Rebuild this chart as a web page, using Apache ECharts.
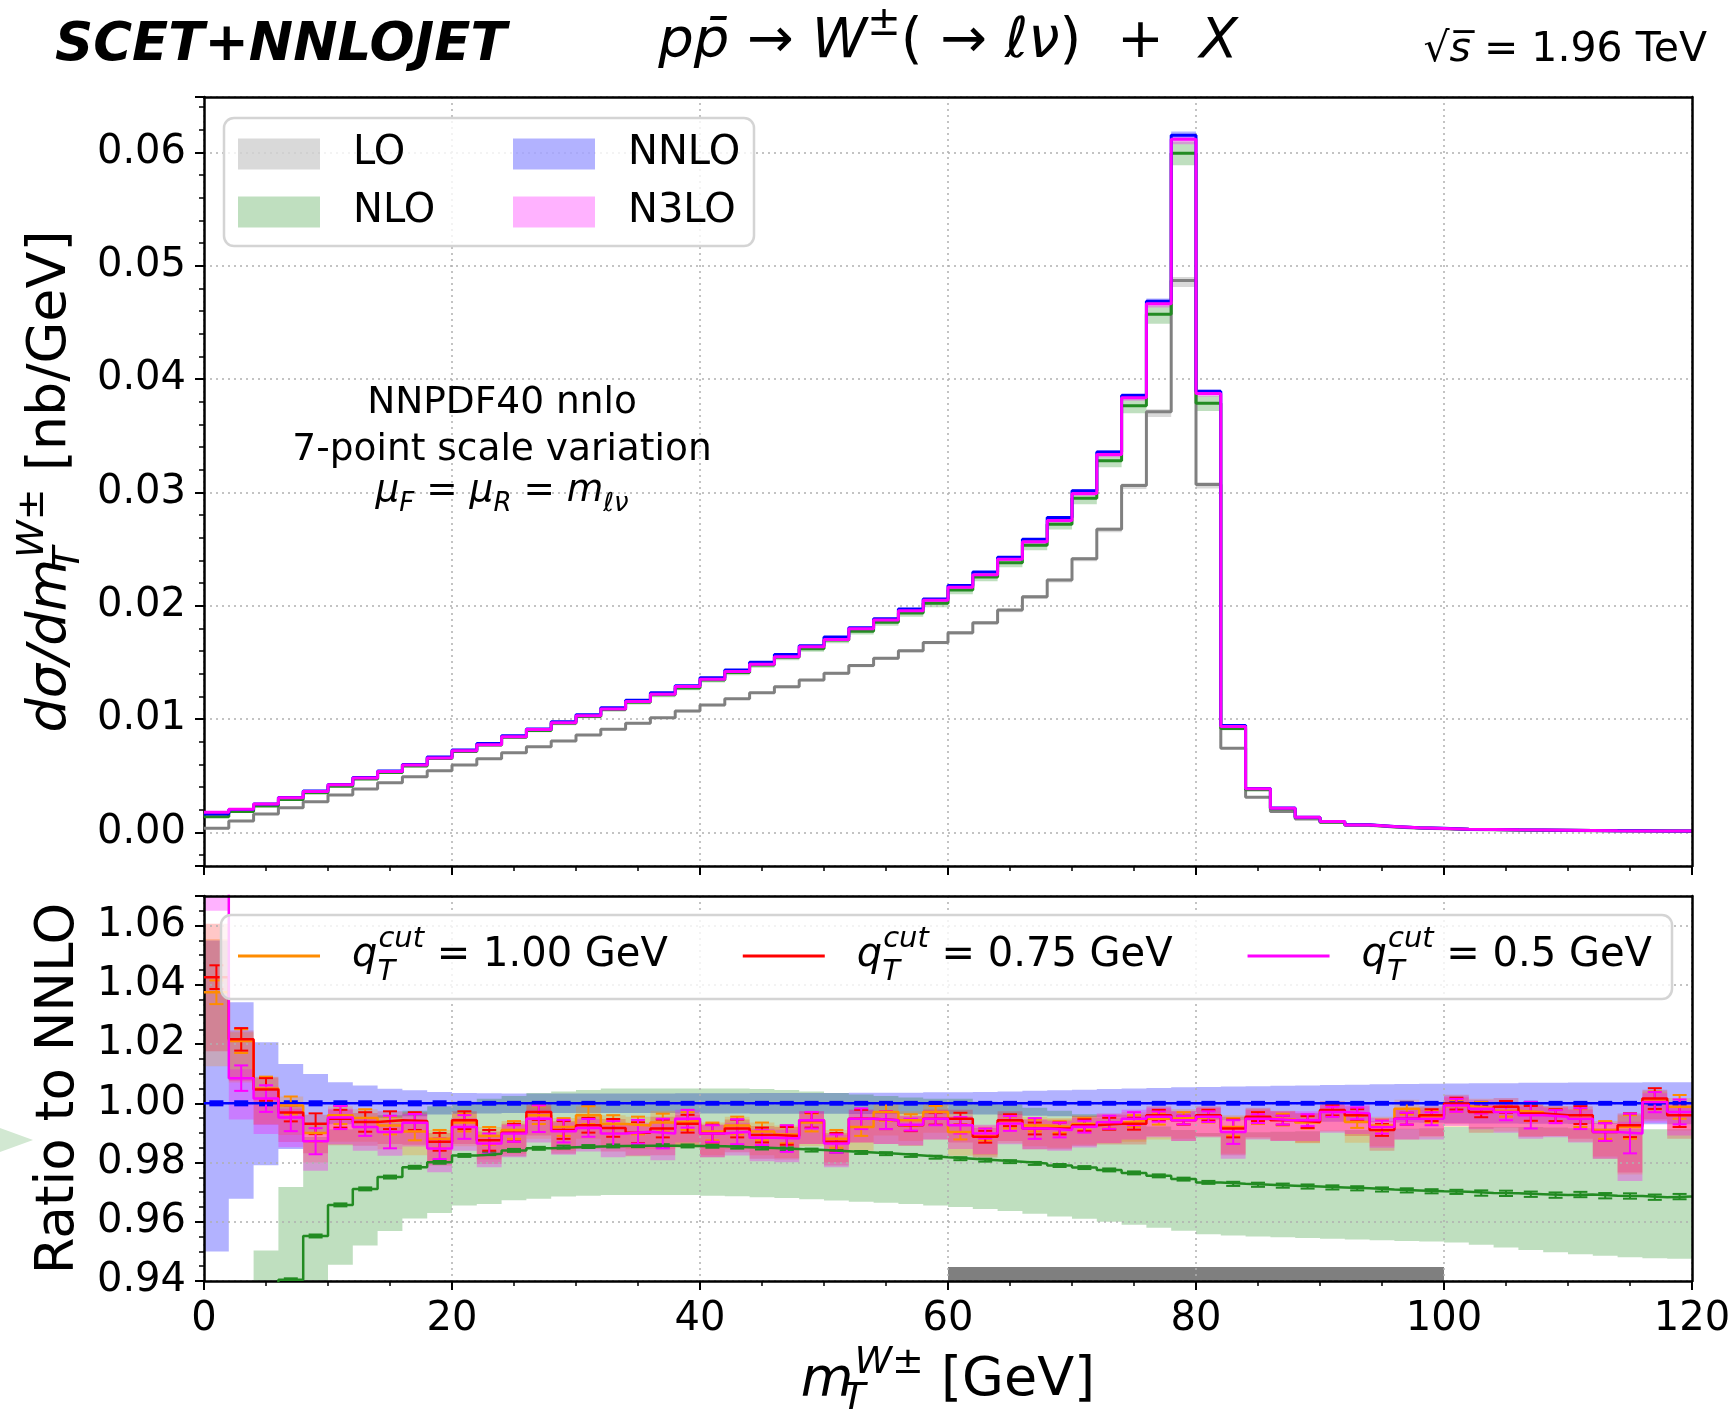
<!DOCTYPE html>
<html><head><meta charset="utf-8">
<script src="https://cdn.jsdelivr.net/npm/echarts@6/dist/echarts.min.js"></script>
<style>html,body{margin:0;padding:0;background:#fff}#chart{width:1731px;height:1415px}</style>
</head><body><div id="chart"></div>
<script>
// ---------------- data ----------------
const binEdges = [0,2,4,6,8,10,12,14,16,18,20,22,24,26,28,30,32,34,36,38,40,42,44,46,48,50,52,54,56,58,60,62,64,66,68,70,72,74,76,78,80,82,84,86,88,90,92,94,96,98,100,102,104,106,108,110,112,114,116,118,120];

// NNLO absolute cross section per bin [nb/GeV]
const nnloXs = [0.00162,0.00201,0.00250,0.00307,0.00365,0.00421,0.00484,0.00542,0.00598,0.00665,
0.00726,0.00784,0.00852,0.00912,0.00976,0.01038,0.01099,0.01165,0.01231,0.01293,
0.01364,0.01432,0.01500,0.01569,0.01646,0.01724,0.01805,0.01885,0.01970,0.02058,
0.02178,0.02297,0.02427,0.02585,0.02777,0.03013,0.03355,0.03855,0.04685,0.06150,
0.03890,0.00942,0.00386,0.00214,0.00134,0.00095,0.00066,0.00051,0.00041,0.00035,
0.00028,0.00025,0.00022,0.00020,0.00018,0.00016,0.00014,0.00013,0.00012,0.00011];
// LO absolute cross section per bin
const loXs = [0.00035,0.00100,0.00162,0.00218,0.00270,0.00330,0.00382,0.00438,0.00491,0.00544,
0.00594,0.00650,0.00703,0.00756,0.00806,0.00859,0.00909,0.00962,0.01012,0.01070,
0.01124,0.01179,0.01232,0.01285,0.01344,0.01403,0.01471,0.01535,0.01603,0.01676,
0.01762,0.01850,0.01962,0.02079,0.02226,0.02415,0.02674,0.03060,0.03710,0.04870,
0.03070,0.00743,0.00310,0.00183,0.00118,0.00086,0.00062,0.00046,0.00037,0.00031,
0.00026,0.00023,0.00021,0.00019,0.00017,0.00015,0.00014,0.00013,0.00012,0.00011];
// LO scale band relative to LO
const loBandDn = [0.990,0.990,0.990,0.990,0.990,0.990,0.990,0.990,0.990,0.990,
0.990,0.990,0.990,0.990,0.990,0.990,0.990,0.990,0.990,0.990,
0.990,0.990,0.990,0.990,0.990,0.990,0.990,0.990,0.990,0.990,
0.990,0.990,0.990,0.990,0.990,0.990,0.990,0.990,0.988,0.988,
0.988,0.990,0.990,0.990,0.990,0.990,0.990,0.990,0.990,0.990,
0.990,0.990,0.990,0.990,0.990,0.990,0.990,0.990,0.990,0.990];
const loBandUp = [1.006,1.006,1.006,1.006,1.006,1.006,1.006,1.006,1.006,1.006,
1.006,1.006,1.006,1.006,1.006,1.006,1.006,1.006,1.006,1.006,
1.006,1.006,1.006,1.006,1.006,1.006,1.006,1.006,1.006,1.006,
1.006,1.006,1.006,1.006,1.006,1.006,1.006,1.006,1.006,1.006,
1.006,1.006,1.006,1.006,1.006,1.006,1.006,1.006,1.006,1.006,
1.006,1.006,1.006,1.006,1.006,1.006,1.006,1.006,1.006,1.006];

// Ratios to NNLO
const nloRatio = [0.850,0.910,0.930,0.9404,0.9552,0.9657,0.9711,0.9751,0.9784,0.9801,
0.9824,0.9830,0.9841,0.9848,0.9852,0.9854,0.9856,0.9857,0.9857,0.9856,
0.9855,0.9852,0.9849,0.9846,0.9842,0.9838,0.9834,0.9830,0.9824,0.9818,
0.9813,0.9808,0.9803,0.9797,0.9790,0.9783,0.9775,0.9765,0.9755,0.9744,
0.9733,0.9728,0.9725,0.9722,0.9719,0.9716,0.9713,0.9709,0.9706,0.9703,
0.9701,0.9697,0.9696,0.9693,0.9690,0.9692,0.9688,0.9687,0.9683,0.9685];
const nloRatioErr = [0.0005,0.0005,0.0005,0.0005,0.0005,0.0005,0.0005,0.0005,0.0005,0.0005,
0.0005,0.0005,0.0005,0.0005,0.0005,0.0005,0.0005,0.0005,0.0005,0.0005,
0.0005,0.0005,0.0005,0.0005,0.0005,0.0005,0.0005,0.0005,0.0005,0.0005,
0.0005,0.0005,0.0005,0.0005,0.0005,0.0005,0.0005,0.0005,0.0005,0.0005,
0.0005,0.0007,0.0007,0.0007,0.0007,0.0007,0.0007,0.0007,0.0007,0.0007,
0.0007,0.0009,0.0009,0.0009,0.0009,0.0009,0.0009,0.0009,0.0009,0.0009];
const nloBandLo = [0.780,0.850,0.900,0.915,0.930,0.9455,0.9520,0.9569,0.9611,0.9630,
0.9655,0.9660,0.9673,0.9678,0.9685,0.9688,0.9690,0.9690,0.9690,0.9690,
0.9688,0.9686,0.9683,0.9680,0.9676,0.9672,0.9668,0.9664,0.9660,0.9655,
0.9650,0.9643,0.9636,0.9627,0.9618,0.9610,0.9600,0.9590,0.9580,0.9570,
0.9558,0.9554,0.9550,0.9548,0.9545,0.9543,0.9540,0.9538,0.9535,0.9533,
0.9530,0.9522,0.9513,0.9505,0.9497,0.9490,0.9485,0.9480,0.9477,0.9475];
const nloBandHi = [0.920,0.935,0.9503,0.9717,0.9886,0.9912,0.9940,0.9960,0.9975,0.9990,
1.0005,1.0015,1.0025,1.0035,1.0040,1.0045,1.0050,1.0050,1.0050,1.0050,
1.0050,1.0050,1.0048,1.0045,1.0040,1.0035,1.0030,1.0025,1.0020,1.0015,
1.0015,1.0005,0.9995,0.9985,0.9975,0.9963,0.9950,0.9935,0.9922,0.9910,
0.9900,0.9900,0.9902,0.9904,0.9906,0.9908,0.9910,0.9912,0.9914,0.9916,
0.9920,0.9920,0.9920,0.9920,0.9918,0.9916,0.9915,0.9913,0.9912,0.9912];

const nnloRatio = [1,1,1,1,1,1,1,1,1,1,1,1,1,1,1,1,1,1,1,1,1,1,1,1,1,1,1,1,1,1,
1,1,1,1,1,1,1,1,1,1,1,1,1,1,1,1,1,1,1,1,1,1,1,1,1,1,1,1,1,1];
const nnloRatioErr = [0.0006,0.0006,0.0006,0.0006,0.0006,0.0006,0.0006,0.0006,0.0006,0.0006,
0.0004,0.0004,0.0004,0.0004,0.0004,0.0004,0.0004,0.0004,0.0004,0.0004,
0.0004,0.0004,0.0004,0.0004,0.0004,0.0004,0.0004,0.0004,0.0004,0.0004,
0.0004,0.0004,0.0004,0.0004,0.0004,0.0004,0.0004,0.0004,0.0004,0.0004,
0.0004,0.0004,0.0004,0.0004,0.0004,0.0004,0.0004,0.0004,0.0004,0.0004,
0.0004,0.0004,0.0004,0.0004,0.0004,0.0004,0.0004,0.0004,0.0004,0.0004];
const nnloBandHi = [1.0550,1.0341,1.0206,1.0133,1.0099,1.0071,1.0060,1.0049,1.0044,1.0038,
1.0035,1.0034,1.0033,1.0033,1.0033,1.0033,1.0033,1.0033,1.0033,1.0034,
1.0034,1.0034,1.0035,1.0035,1.0035,1.0035,1.0036,1.0036,1.0036,1.0037,
1.0037,1.0038,1.0040,1.0042,1.0044,1.0046,1.0048,1.0050,1.0052,1.0054,
1.0055,1.0057,1.0058,1.0059,1.0060,1.0062,1.0063,1.0064,1.0065,1.0066,
1.0067,1.0068,1.0068,1.0069,1.0069,1.0070,1.0070,1.0070,1.0071,1.0071];
const nnloBandLo = [0.9500,0.9678,0.9791,0.9846,0.9900,0.9929,0.9940,0.9951,0.9956,0.9962,
0.9965,0.9966,0.9967,0.9967,0.9967,0.9967,0.9967,0.9967,0.9967,0.9966,
0.9966,0.9966,0.9965,0.9965,0.9965,0.9965,0.9964,0.9964,0.9964,0.9963,
0.9963,0.9962,0.9960,0.9958,0.9956,0.9954,0.9952,0.9950,0.9948,0.9946,
0.9945,0.9943,0.9942,0.9941,0.9940,0.9938,0.9937,0.9936,0.9935,0.9934,
0.9933,0.9932,0.9932,0.9931,0.9931,0.9930,0.9930,0.9930,0.9929,0.9929];

// N3LO / NNLO for three qT-cut values, with MC errors
const r100 = [1.0375,1.0210,1.0050,0.9993,0.9900,0.9960,0.9950,0.9925,0.9905,0.9880,
0.9935,0.9890,0.9910,0.9960,0.9920,0.9960,0.9930,0.9925,0.9935,0.9940,
0.9905,0.9925,0.9905,0.9895,0.9935,0.9880,0.9920,0.9971,0.9943,0.9971,
0.9903,0.9895,0.9935,0.9925,0.9920,0.9930,0.9935,0.9940,0.9948,0.9950,
0.9955,0.9920,0.9950,0.9945,0.9935,0.9975,0.9937,0.9925,0.9982,0.9955,
0.9990,0.9985,0.9975,0.9970,0.9960,0.9950,0.9910,0.9920,1.0010,0.9988];
const e100 = [0.004,0.004,0.004,0.003,0.003,0.003,0.003,0.003,0.003,0.003,
0.003,0.003,0.003,0.003,0.003,0.003,0.003,0.003,0.003,0.003,
0.003,0.003,0.003,0.003,0.003,0.003,0.003,0.003,0.002,0.002,
0.0025,0.002,0.002,0.002,0.002,0.002,0.002,0.002,0.002,0.002,
0.002,0.003,0.002,0.002,0.002,0.002,0.002,0.002,0.002,0.002,
0.002,0.002,0.002,0.003,0.002,0.003,0.003,0.004,0.003,0.004];
const r075 = [1.0426,1.0216,1.0047,0.9969,0.9931,0.9948,0.9937,0.9943,0.9940,0.9870,
0.9943,0.9875,0.9901,0.9971,0.9910,0.9926,0.9917,0.9901,0.9915,0.9931,
0.9898,0.9915,0.9893,0.9890,0.9943,0.9870,0.9948,0.9943,0.9926,0.9948,
0.9948,0.9887,0.9943,0.9915,0.9915,0.9926,0.9931,0.9931,0.9960,0.9943,
0.9960,0.9915,0.9955,0.9943,0.9937,0.9977,0.9960,0.9910,0.9948,0.9960,
0.9999,0.9971,0.9988,0.9966,0.9960,0.9960,0.9903,0.9926,1.0016,0.9960];
const e075 = [0.004,0.0038,0.0038,0.003,0.0035,0.003,0.0033,0.003,0.003,0.003,
0.003,0.0035,0.003,0.0027,0.003,0.0025,0.003,0.0035,0.003,0.003,
0.003,0.003,0.0025,0.003,0.0025,0.003,0.003,0.003,0.002,0.002,
0.002,0.002,0.002,0.002,0.002,0.002,0.002,0.002,0.0018,0.0015,
0.0018,0.003,0.0015,0.0015,0.002,0.0018,0.002,0.002,0.002,0.002,
0.002,0.0018,0.002,0.0025,0.002,0.003,0.003,0.004,0.0035,0.004];
const r050 = [1.0900,1.0085,1.0016,0.9952,0.9872,0.9952,0.9920,0.9903,0.9934,0.9847,
0.9920,0.9864,0.9898,0.9948,0.9906,0.9917,0.9898,0.9904,0.9898,0.9948,
0.9898,0.9904,0.9884,0.9881,0.9943,0.9864,0.9948,0.9943,0.9928,0.9948,
0.9926,0.9898,0.9932,0.9915,0.9910,0.9921,0.9936,0.9948,0.9955,0.9943,
0.9955,0.9903,0.9948,0.9943,0.9943,0.9971,0.9966,0.9920,0.9948,0.9948,
0.9993,0.9982,0.9971,0.9960,0.9955,0.9948,0.9903,0.9898,1.0004,0.9971];
const e050 = [0.005,0.0043,0.0045,0.0046,0.0044,0.0039,0.003,0.0055,0.003,0.0035,
0.004,0.0034,0.0028,0.0045,0.0038,0.003,0.0042,0.004,0.005,0.003,
0.0028,0.0042,0.0025,0.0045,0.0028,0.0031,0.0035,0.003,0.002,0.0022,
0.0028,0.0017,0.0025,0.0035,0.0025,0.002,0.0022,0.0022,0.0017,0.0014,
0.0018,0.004,0.0015,0.0015,0.002,0.0017,0.002,0.0022,0.002,0.0022,
0.0022,0.0017,0.0028,0.0045,0.0022,0.0035,0.003,0.0067,0.0034,0.0042];
// N3LO scale band offsets (below / above the central value)
const n3loBandDn = [0.025,0.014,0.012,0.010,0.010,0.009,0.008,0.008,0.008,0.008,
0.008,0.008,0.008,0.008,0.008,0.008,0.008,0.008,0.009,0.008,
0.008,0.008,0.008,0.008,0.008,0.008,0.008,0.008,0.007,0.007,
0.008,0.007,0.007,0.007,0.007,0.007,0.007,0.007,0.007,0.007,
0.007,0.009,0.007,0.007,0.007,0.007,0.007,0.007,0.007,0.007,
0.007,0.007,0.007,0.008,0.007,0.008,0.009,0.016,0.007,0.008];
const n3loBandUp = [0.018,0.003,0.004,0.003,0.003,0.003,0.003,0.003,0.003,0.003,
0.003,0.003,0.003,0.003,0.003,0.003,0.003,0.003,0.004,0.003,
0.003,0.003,0.003,0.003,0.003,0.003,0.003,0.003,0.003,0.003,
0.003,0.003,0.003,0.003,0.003,0.003,0.003,0.003,0.003,0.003,
0.003,0.004,0.003,0.003,0.003,0.003,0.003,0.003,0.003,0.003,
0.003,0.003,0.003,0.003,0.003,0.003,0.003,0.004,0.003,0.003];
// fit-window bar at the bottom of ratio panel: [xFrom, xTo, yTop]
const grayBar = [60, 100, 0.9447];

// ---------------- helpers ----------------
const Y0 = [-0.00297, 0.06488];
const Y1 = [0.94, 1.07];
const yExt = [Y0, Y1];
const mul = (a, b) => a.map((v, i) => v * b[i]);
const add = (a, b, s) => a.map((v, i) => v + s * b[i]);
const FONT = 'DejaVu Sans';

const nloXs = mul(nnloXs, nloRatio);
const n3loXs = mul(nnloXs, r050);

function stepPts(vals) {
  const d = vals.map((v, i) => [binEdges[i], v]);
  d.push([binEdges[vals.length], vals[vals.length - 1]]);
  return d;
}
function stepLine(name, ax, vals, color, w, z) {
  return { type: 'line', name, xAxisIndex: ax, yAxisIndex: ax, step: 'end', data: stepPts(vals),
    showSymbol: false, symbol: 'none', lineStyle: { color, width: w }, itemStyle: { color },
    z: z || 3, silent: true, clip: true, animation: false };
}
function band(name, ax, lows, highs, color, z) {
  const ext = yExt[ax];
  const cl = v => Math.min(Math.max(v, ext[0]), ext[1]);
  return { type: 'custom', name, xAxisIndex: ax, yAxisIndex: ax, z: z || 1, silent: true, animation: false,
    data: [[60, (ext[0] + ext[1]) / 2]],
    renderItem: (params, api) => {
      const top = [], bot = [];
      for (let i = 0; i < lows.length; i++) {
        top.push(api.coord([binEdges[i], cl(highs[i])]), api.coord([binEdges[i + 1], cl(highs[i])]));
        bot.push(api.coord([binEdges[i], cl(lows[i])]), api.coord([binEdges[i + 1], cl(lows[i])]));
      }
      return { type: 'polygon', shape: { points: top.concat(bot.reverse()) }, style: { fill: color } };
    } };
}
function errBars(name, ax, vals, errs, color, capHalf, lw, z) {
  const ext = yExt[ax];
  const data = vals.map((v, i) => [(binEdges[i] + binEdges[i + 1]) / 2, v, errs[i]]);
  return { type: 'custom', name, xAxisIndex: ax, yAxisIndex: ax, z: z || 3, silent: true, animation: false, data,
    renderItem: (params, api) => {
      const x = api.value(0), y = api.value(1), e = api.value(2);
      const lo = y - e, hi = y + e;
      if (lo > ext[1] || hi < ext[0]) return null;
      const p0 = api.coord([x, Math.max(lo, ext[0])]), p1 = api.coord([x, Math.min(hi, ext[1])]);
      const st = { stroke: color, lineWidth: lw };
      const ch = [{ type: 'line', shape: { x1: p0[0], y1: p0[1], x2: p1[0], y2: p1[1] }, style: st }];
      if (lo >= ext[0]) ch.push({ type: 'line', shape: { x1: p0[0] - capHalf, y1: p0[1], x2: p0[0] + capHalf, y2: p0[1] }, style: st });
      if (hi <= ext[1]) ch.push({ type: 'line', shape: { x1: p1[0] - capHalf, y1: p1[1], x2: p1[0] + capHalf, y2: p1[1] }, style: st });
      return { type: 'group', children: ch };
    } };
}

const C = {
  loLine: '#808080', loBand: 'rgba(128,128,128,0.3)',
  nloLine: '#228b22', nloBand: 'rgba(0,128,0,0.25)',
  nnloLine: '#0000ff', nnloBand: 'rgba(0,0,255,0.3)',
  n3loLine: '#ff00ff', n3loBand: 'rgba(255,0,255,0.3)',
  orange: '#ff8c00', red: '#ff0000', magenta: '#ff00ff'
};

const axisCommon = {
  z: 2,
  axisLine: { show: true, onZero: false, lineStyle: { color: '#000', width: 2.5 } },
  axisTick: { show: true, inside: false, length: 9, lineStyle: { color: '#000', width: 2 } },
  splitLine: { show: true, lineStyle: { color: '#b0b0b0', width: 1.5, type: [2, 4] } }
};
// frame-only axes (top / right spines)
function spine(grid, pos) {
  return { type: 'value', gridIndex: grid, position: pos, min: 0, max: 1, z: 4,
    axisLine: { show: true, onZero: false, lineStyle: { color: '#000', width: 2.5 } },
    axisTick: { show: false }, axisLabel: { show: false }, splitLine: { show: false } };
}
const labelStyle = { fontSize: 40, fontFamily: FONT, color: '#000' };
const nameRich = {
  it: { fontSize: 54, fontFamily: FONT, fontStyle: 'italic', color: '#000', lineHeight: 74, verticalAlign: 'middle' },
  n: { fontSize: 54, fontFamily: FONT, color: '#000', lineHeight: 74, verticalAlign: 'middle' },
  sub: { fontSize: 38, fontFamily: FONT, fontStyle: 'italic', color: '#000', lineHeight: 74, verticalAlign: 'bottom', width: 1 },
  supi: { fontSize: 38, fontFamily: FONT, fontStyle: 'italic', color: '#000', lineHeight: 74, verticalAlign: 'top' },
  supn: { fontSize: 38, fontFamily: FONT, color: '#000', lineHeight: 74, verticalAlign: 'top' }
};

const option = {
  animation: false,
  backgroundColor: '#ffffff',
  grid: [
    { left: 204, top: 97, width: 1488, height: 769, show: false, containLabel: false, outerBoundsMode: 'none' },
    { left: 204, top: 896, width: 1488, height: 385, show: false, containLabel: false, outerBoundsMode: 'none' }
  ],
  xAxis: [
    Object.assign({}, axisCommon, { type: 'value', gridIndex: 0, min: 0, max: 120, interval: 20,
      minorTick: { show: true, splitNumber: 4, length: 5, lineStyle: { color: '#000', width: 1.5 } },
      axisLabel: { show: false } }),
    Object.assign({}, axisCommon, { type: 'value', gridIndex: 1, min: 0, max: 120, interval: 20,
      minorTick: { show: true, splitNumber: 4, length: 5, lineStyle: { color: '#000', width: 1.5 } },
      axisLabel: Object.assign({ show: true, margin: 19, hideOverlap: false, formatter: v => String(v) }, labelStyle),
      name: '{it|m}{sub|T}{supi|W}{supn|±}{n| [GeV]}', nameLocation: 'middle', nameGap: 63, nameMoveOverlap: false,
      nameTextStyle: { rich: nameRich } }),
    spine(0, 'top'),
    spine(1, 'top')
  ],
  yAxis: [
    Object.assign({}, axisCommon, { type: 'value', gridIndex: 0, min: Y0[0], max: Y0[1], minInterval: 0.01, maxInterval: 0.01,
      minorTick: { show: true, splitNumber: 5, length: 5, lineStyle: { color: '#000', width: 1.5 } },
      axisLabel: Object.assign({ show: true, margin: 18, hideOverlap: false, showMinLabel: false, showMaxLabel: false, formatter: v => v.toFixed(2) }, labelStyle),
      name: '{it|dσ/dm}{sub|T}{supi|W}{supn|±}{n| [nb/GeV]}', nameLocation: 'middle', nameRotate: 90, nameGap: 116, nameMoveOverlap: false,
      nameTextStyle: { rich: nameRich } }),
    Object.assign({}, axisCommon, { type: 'value', gridIndex: 1, min: Y1[0], max: Y1[1], minInterval: 0.02, maxInterval: 0.02,
      minorTick: { show: true, splitNumber: 4, length: 5, lineStyle: { color: '#000', width: 1.5 } },
      axisLabel: Object.assign({ show: true, margin: 18, hideOverlap: false, showMinLabel: true, showMaxLabel: false, formatter: v => v.toFixed(2) }, labelStyle),
      name: 'Ratio to NNLO', nameLocation: 'middle', nameRotate: 90, nameGap: 118, nameMoveOverlap: false,
      nameTextStyle: { fontSize: 53, fontFamily: FONT, color: '#000' } }),
    spine(0, 'right'),
    spine(1, 'right')
  ],
  legend: [
    { show: true, orient: 'vertical', left: 238, top: 134, itemWidth: 82, itemHeight: 31, itemGap: 18, icon: 'rect', selectedMode: false, padding: 0, z: 6,
      data: [{ name: 'LO', itemStyle: { color: C.loBand, borderWidth: 0 } }, { name: 'NLO', itemStyle: { color: C.nloBand, borderWidth: 0 } }],
      textStyle: { fontSize: 40, fontFamily: FONT, color: '#000', padding: [0, 0, 0, 28] } },
    { show: true, orient: 'vertical', left: 513, top: 134, itemWidth: 82, itemHeight: 31, itemGap: 18, icon: 'rect', selectedMode: false, padding: 0, z: 6,
      data: [{ name: 'NNLO', itemStyle: { color: C.nnloBand, borderWidth: 0 } }, { name: 'N3LO', itemStyle: { color: C.n3loBand, borderWidth: 0 } }],
      textStyle: { fontSize: 40, fontFamily: FONT, color: '#000', padding: [0, 0, 0, 28] } },
    { show: true, orient: 'horizontal', left: 238, top: 925, itemWidth: 82, itemHeight: 3, itemGap: 75, icon: 'rect', selectedMode: false, padding: 0, z: 6,
      data: [{ name: 'q_T^cut = 1.00 GeV', itemStyle: { color: C.orange } }, { name: 'q_T^cut = 0.75 GeV', itemStyle: { color: C.red } }, { name: 'q_T^cut = 0.5 GeV', itemStyle: { color: C.magenta } }],
      formatter: name => '{q|q}{sub|T}{sup|cut}{n| ' + name.split('cut ')[1] + '}',
      textStyle: { fontSize: 40, fontFamily: FONT, color: '#000', padding: [0, 0, 0, 27],
        rich: {
          q: { fontSize: 40, fontFamily: FONT, fontStyle: 'italic', lineHeight: 62, verticalAlign: 'middle' },
          n: { fontSize: 40, fontFamily: FONT, lineHeight: 62, verticalAlign: 'middle' },
          sub: { fontSize: 29, fontFamily: FONT, fontStyle: 'italic', lineHeight: 62, verticalAlign: 'bottom', width: 1 },
          sup: { fontSize: 29, fontFamily: FONT, fontStyle: 'italic', lineHeight: 62, verticalAlign: 'top' }
        } } }
  ],
  graphic: [
    { type: 'text', x: 55, y: 46, z: 5, style: { text: 'SCET+NNLOJET', fontSize: 53, fontWeight: 'bold', fontStyle: 'italic', fontFamily: FONT, fill: '#000', verticalAlign: 'middle' } },
    { type: 'text', x: 948, y: 42, z: 5, style: { text: '{i|pp\u0304}{n| \u2192 }{i|W}{s|\u00b1}{n|( \u2192 }{i|\u2113\u03bd}{n|)  +  }{i|X}', align: 'center', verticalAlign: 'middle',
      rich: { i: { fontSize: 56, fontFamily: FONT, fontStyle: 'italic', lineHeight: 74, verticalAlign: 'middle' },
              n: { fontSize: 56, fontFamily: FONT, lineHeight: 74, verticalAlign: 'middle' },
              s: { fontSize: 40, fontFamily: FONT, lineHeight: 74, verticalAlign: 'top' } } } },
    { type: 'text', x: 1707, y: 50, z: 5, style: { text: '{n|\u221a}{i|s\u0305}{n| = 1.96 TeV}', align: 'right', verticalAlign: 'middle',
      rich: { i: { fontSize: 41, fontFamily: FONT, fontStyle: 'italic' }, n: { fontSize: 41, fontFamily: FONT } } } },
    { type: 'rect', z: 5, shape: { x: 224, y: 118, width: 530, height: 128, r: 10 }, style: { fill: 'rgba(255,255,255,0.8)', stroke: '#d4d4d4', lineWidth: 2.5 } },
    { type: 'rect', z: 5, shape: { x: 221, y: 915, width: 1451, height: 84, r: 10 }, style: { fill: 'rgba(255,255,255,0.8)', stroke: '#d4d4d4', lineWidth: 2.5 } },
    { type: 'text', x: 502, y: 403, z: 5, style: { text: 'NNPDF40 nnlo', fontSize: 37.5, fontFamily: FONT, fill: '#000', align: 'center', verticalAlign: 'middle' } },
    { type: 'text', x: 502, y: 450, z: 5, style: { text: '7-point scale variation', fontSize: 37.5, fontFamily: FONT, fill: '#000', align: 'center', verticalAlign: 'middle' } },
    { type: 'text', x: 502, y: 491, z: 5, style: { text: '{i|\u03bc}{b|F}{n| = }{i|\u03bc}{b|R}{n| = }{i|m}{b|\u2113\u03bd}', align: 'center', verticalAlign: 'middle',
      rich: { i: { fontSize: 37.5, fontFamily: FONT, fontStyle: 'italic', lineHeight: 52, verticalAlign: 'middle' },
              n: { fontSize: 37.5, fontFamily: FONT, lineHeight: 52, verticalAlign: 'middle' },
              b: { fontSize: 26, fontFamily: FONT, fontStyle: 'italic', lineHeight: 52, verticalAlign: 'bottom' } } } },
    { type: 'polygon', z: 5, shape: { points: [[0, 1128], [33, 1140], [0, 1152]] }, style: { fill: 'rgb(210,232,210)' } }
  ],
  series: [
    // ---- top panel ----
    band('LO', 0, mul(loXs, loBandDn), mul(loXs, loBandUp), C.loBand),
    band('NLO', 0, mul(nnloXs, nloBandLo), mul(nnloXs, nloBandHi), C.nloBand),
    band('NNLO', 0, mul(nnloXs, nnloBandLo), mul(nnloXs, nnloBandHi), C.nnloBand),
    band('N3LO', 0, mul(nnloXs, add(r050, n3loBandDn, -1)), mul(nnloXs, add(r050, n3loBandUp, 1)), C.n3loBand),
    stepLine('LO line', 0, loXs, C.loLine, 3),
    stepLine('NLO line', 0, nloXs, C.nloLine, 3),
    stepLine('NNLO line', 0, nnloXs, C.nnloLine, 3),
    stepLine('N3LO line', 0, n3loXs, C.n3loLine, 3),
    // ---- ratio panel ----
    band('NNLO band ratio', 1, nnloBandLo, nnloBandHi, C.nnloBand),
    band('NLO band ratio', 1, nloBandLo, nloBandHi, C.nloBand),
    band('N3LO 1.00 band', 1, add(r100, n3loBandDn, -1), add(r100, n3loBandUp, 1), 'rgba(255,140,0,0.25)'),
    band('N3LO 0.75 band', 1, add(r075, n3loBandDn, -1), add(r075, n3loBandUp, 1), 'rgba(255,0,0,0.22)'),
    band('N3LO 0.5 band', 1, add(r050, n3loBandDn, -1), add(r050, n3loBandUp, 1), 'rgba(255,0,255,0.3)'),
    { type: 'custom', name: 'window', xAxisIndex: 1, yAxisIndex: 1, z: 1, silent: true, animation: false,
      data: [[grayBar[0], grayBar[1], grayBar[2]]],
      renderItem: (params, api) => {
        const a = api.coord([api.value(0), api.value(2)]), b = api.coord([api.value(1), Y1[0]]);
        return { type: 'rect', shape: { x: a[0], y: a[1], width: b[0] - a[0], height: b[1] - a[1] }, style: { fill: '#7f7f7f' } };
      } },
    stepLine('NLO ratio', 1, nloRatio, C.nloLine, 2.5),
    errBars('NLO ratio err', 1, nloRatio, nloRatioErr, C.nloLine, 7, 2),
    stepLine('NNLO ratio', 1, nnloRatio, C.nnloLine, 2.5),
    errBars('NNLO ratio err', 1, nnloRatio, nnloRatioErr, C.nnloLine, 7, 2.5),
    stepLine('q_T^cut = 1.00 GeV', 1, r100, C.orange, 2.5),
    errBars('err 1.00', 1, r100, e100, C.orange, 7, 2),
    stepLine('q_T^cut = 0.75 GeV', 1, r075, C.red, 2.5),
    errBars('err 0.75', 1, r075, e075, C.red, 7, 2),
    stepLine('q_T^cut = 0.5 GeV', 1, r050, C.magenta, 2.5),
    errBars('err 0.5', 1, r050, e050, C.magenta, 7, 2)
  ]
};

const chart = echarts.init(document.getElementById('chart'), null, { renderer: 'canvas', width: 1731, height: 1415 });
chart.setOption(option);
</script>
</body></html>
